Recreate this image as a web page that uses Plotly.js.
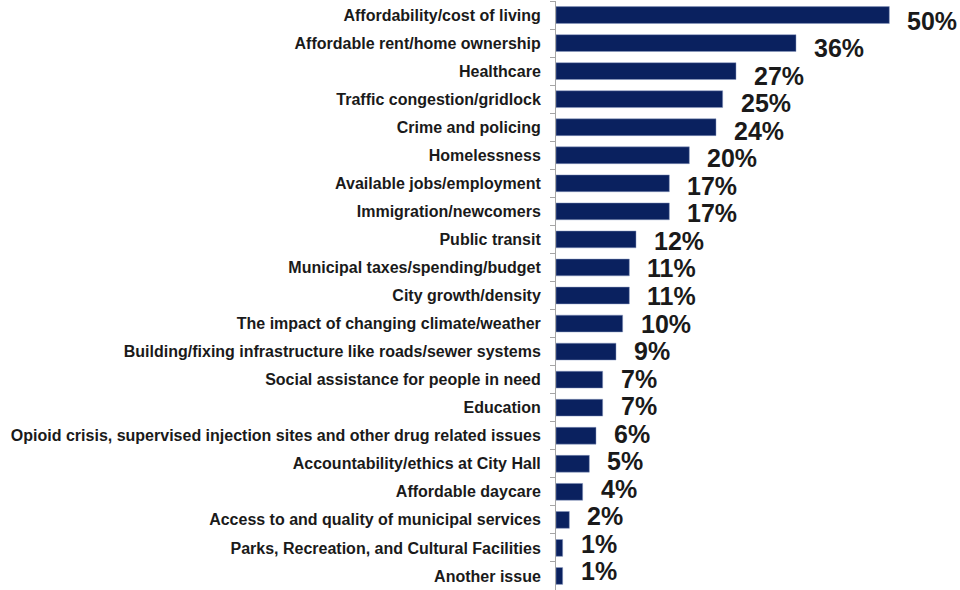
<!DOCTYPE html>
<html><head><meta charset="utf-8">
<script src="https://cdn.plot.ly/plotly-3.0.1.min.js"></script>
<style>html,body{margin:0;padding:0;background:#fff}#chart{width:960px;height:590px}</style>
</head><body><div id="chart"></div>
<script>
const categories = [
  "Affordability/cost of living",
  "Affordable rent/home ownership",
  "Healthcare",
  "Traffic congestion/gridlock",
  "Crime and policing",
  "Homelessness",
  "Available jobs/employment",
  "Immigration/newcomers",
  "Public transit",
  "Municipal taxes/spending/budget",
  "City growth/density",
  "The impact of changing climate/weather",
  "Building/fixing infrastructure like roads/sewer systems",
  "Social assistance for people in need",
  "Education",
  "Opioid crisis, supervised injection sites and other drug related issues",
  "Accountability/ethics at City Hall",
  "Affordable daycare",
  "Access to and quality of municipal services",
  "Parks, Recreation, and Cultural Facilities",
  "Another issue"
];
const values = [50, 36, 27, 25, 24, 20, 17, 17, 12, 11, 11, 10, 9, 7, 7, 6, 5, 4, 2, 1, 1];
const valueLabels = ["50%","36%","27%","25%","24%","20%","17%","17%","12%","11%","11%","10%","9%","7%","7%","6%","5%","4%","2%","1%","1%"];

const font = "Liberation Sans, Arial, sans-serif";
const trace = {
  type: "bar", orientation: "h",
  x: values, y: categories,
  marker: {color: "#0a215f", line: {color: "#8a9ac0", width: 0.5}},
  hoverinfo: "skip"
};
const annotations = categories.map((c, i) => ({
  x: values[i], y: c, xref: "x", yref: "y",
  text: valueLabels[i], showarrow: false,
  xanchor: "left", yanchor: "middle", xshift: 16, yshift: -5.5 + 0.5 * i,
  font: {family: font, size: 25, color: "#1a1a1a", weight: "bold"}
}));
const layout = {
  width: 960, height: 590,
  margin: {l: 556, r: 0, t: 1, b: 0, pad: 0},
  paper_bgcolor: "#fff", plot_bgcolor: "#fff",
  showlegend: false,
  bargap: 0.4,
  xaxis: {range: [0, 60.6], visible: false, fixedrange: true, automargin: false},
  yaxis: {
    type: "category", range: [20.5, -0.5], autorange: false, automargin: false,
    showline: true, linecolor: "#a6a6a6", linewidth: 1,
    ticks: "outside", tickson: "boundaries", ticklen: 5, tickcolor: "#a6a6a6",
    ticklabelstandoff: 11,
    tickfont: {family: font, size: 16, color: "#1a1a1a", weight: "bold"},
    showgrid: false, zeroline: false
  },
  annotations: annotations
};
Plotly.newPlot("chart", [trace], layout, {staticPlot: true});
</script>
</body></html>
